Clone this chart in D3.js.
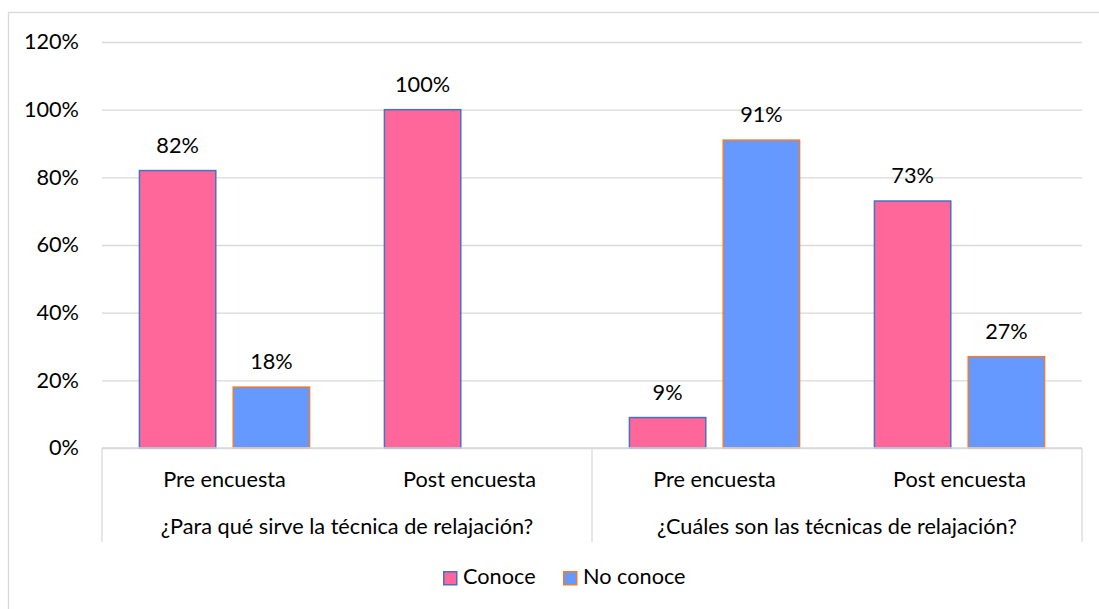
<!DOCTYPE html>
<html>
<head>
<meta charset="utf-8">
<script src="https://cdn.jsdelivr.net/npm/d3@7/dist/d3.min.js"></script>
<style>
  html, body { margin: 0; padding: 0; background: #fff; }
  svg { display: block; font-family: Lato, "Open Sans", sans-serif; }
</style>
</head>
<body>
<svg id="chart" width="1099" height="609"></svg>
<script>
// Survey results: share of respondents who know / don't know, before and after
const questions = ["¿Para qué sirve la técnica de relajación?", "¿Cuáles son las técnicas de relajación?"];
const phases = ["Pre encuesta", "Post encuesta"];
const seriesNames = ["Conoce", "No conoce"];
const conoce   = [0.82, 1.00, 0.09, 0.73];
const noConoce = [0.18, null, 0.91, 0.27];
const yTicks = [0, 0.2, 0.4, 0.6, 0.8, 1.0, 1.2];

const fills   = ["#FF6699", "#6699FF"];
const strokes = ["#4472C4", "#ED7D31"];
const gridColor = "#D9D9D9";
const fontSize = 21.7;

const svg = d3.select("#chart");

// Chart area frame (right and bottom edges fall outside the canvas)
svg.append("rect")
  .attr("x", 8.5).attr("y", 12.5)
  .attr("width", 1100).attr("height", 610)
  .attr("fill", "#fff").attr("stroke", gridColor).attr("stroke-width", 1.3);

const plot = { left: 102, right: 1082, top: 42, bottom: 448 };

// One category per (question, phase) pair
const cats = [];
questions.forEach((q, qi) => phases.forEach((p, pi) => cats.push({ q, qi, p, key: qi + "|" + pi })));

const x = d3.scaleBand().domain(cats.map(d => d.key)).range([plot.left, plot.right]).padding(0);
const xs = d3.scaleBand().domain(seriesNames).range([0, x.bandwidth()])
  .paddingInner(0.186).paddingOuter(0.399);
const y = d3.scaleLinear().domain([0, 1.2]).range([plot.bottom, plot.top]);

// Y axis with horizontal gridlines
const yAxis = d3.axisLeft(y)
  .tickValues(yTicks)
  .tickFormat(d3.format(".0%"))
  .tickSizeInner(-(plot.right - plot.left))
  .tickSizeOuter(0)
  .tickPadding(23);

const gy = svg.append("g").attr("transform", `translate(${plot.left},0)`).call(yAxis);
gy.select(".domain").remove();
gy.selectAll(".tick line").attr("stroke", gridColor).attr("stroke-width", 1.3);
gy.selectAll(".tick text")
  .attr("fill", "#000")
  .attr("font-size", fontSize)
  .attr("font-family", "Lato, sans-serif");

// Bars
const rows = cats.map((c, i) => ({ cat: c, values: [conoce[i], noConoce[i]] }));
const groups = svg.append("g").selectAll("g.cat")
  .data(rows).join("g")
  .attr("transform", d => `translate(${x(d.cat.key)},0)`);

const barData = d => d.values
  .map((v, si) => ({ v, si, name: seriesNames[si] }))
  .filter(e => e.v !== null);

groups.selectAll("rect")
  .data(barData).join("rect")
  .attr("x", e => xs(e.name))
  .attr("width", xs.bandwidth())
  .attr("y", e => y(e.v))
  .attr("height", e => y(0) - y(e.v))
  .attr("fill", e => fills[e.si])
  .attr("stroke", e => strokes[e.si])
  .attr("stroke-width", 1.5);

// Value labels above bars
groups.selectAll("text.val")
  .data(barData).join("text")
  .attr("class", "val")
  .attr("x", e => xs(e.name) + xs.bandwidth() / 2)
  .attr("y", e => y(e.v) - 18)
  .attr("text-anchor", "middle")
  .attr("font-size", fontSize)
  .attr("fill", "#000")
  .text(e => d3.format(".0%")(e.v));

// Category axis: baseline, group separators and two-level labels
svg.append("line")
  .attr("x1", plot.left).attr("x2", plot.right)
  .attr("y1", plot.bottom).attr("y2", plot.bottom)
  .attr("stroke", gridColor).attr("stroke-width", 1.3);

const sepBottom = 542;
const groupEdges = [plot.left, x(cats[2].key), plot.right];
svg.append("g").selectAll("line")
  .data(groupEdges).join("line")
  .attr("x1", d => d).attr("x2", d => d)
  .attr("y1", plot.bottom).attr("y2", sepBottom)
  .attr("stroke", gridColor).attr("stroke-width", 1.3);

svg.append("g").selectAll("text")
  .data(cats).join("text")
  .attr("x", d => x(d.key) + x.bandwidth() / 2)
  .attr("y", 487)
  .attr("text-anchor", "middle")
  .attr("font-size", fontSize)
  .attr("fill", "#000")
  .text(d => d.p);

svg.append("g").selectAll("text")
  .data(questions).join("text")
  .attr("x", (d, i) => (groupEdges[i] + groupEdges[i + 1]) / 2)
  .attr("y", 534)
  .attr("text-anchor", "middle")
  .attr("font-size", fontSize)
  .attr("fill", "#000")
  .text(d => d);

// Legend
const legendItems = [
  { name: seriesNames[0], x: 443 },
  { name: seriesNames[1], x: 563 }
];
const lg = svg.append("g").selectAll("g")
  .data(legendItems).join("g")
  .attr("transform", d => `translate(${d.x},571)`);
lg.append("rect")
  .attr("x", 0.75).attr("y", 0.75)
  .attr("width", 13).attr("height", 13)
  .attr("fill", (d, i) => fills[i])
  .attr("stroke", (d, i) => strokes[i])
  .attr("stroke-width", 1.5);
lg.append("text")
  .attr("x", 20).attr("y", 13)
  .attr("font-size", fontSize)
  .attr("fill", "#000")
  .text(d => d.name);
</script>
</body>
</html>
